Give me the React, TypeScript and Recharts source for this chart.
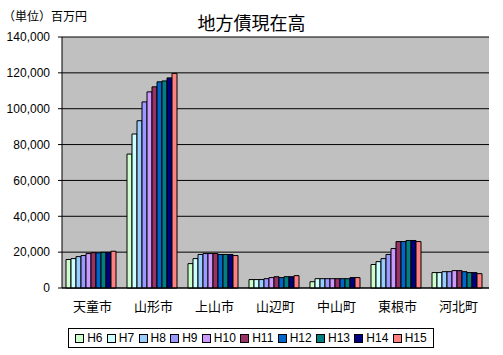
import { BarChart, Bar, XAxis, YAxis, CartesianGrid } from "recharts";

// 市町村
const categories = ["天童市", "山形市", "上山市", "山辺町", "中山町", "東根市", "河北町"];

// 年度
const years = ["H6", "H7", "H8", "H9", "H10", "H11", "H12", "H13", "H14", "H15"];
const colors = [
  "#CCFFCC", "#CCFFFF", "#99CCFF", "#9999FF", "#CC99FF",
  "#993366", "#0066CC", "#008080", "#000080", "#FF8080",
];

// 地方債現在高（百万円）
const h6 = [15900, 74700, 13600, 4700, 3500, 13100, 8600];
const h7 = [16400, 85900, 16400, 4700, 5200, 14700, 8600];
const h8 = [17500, 93300, 18700, 4700, 5200, 16400, 9100];
const h9 = [18100, 103800, 19200, 5200, 5200, 18700, 9100];
const h10 = [19200, 109400, 19200, 5800, 5200, 22000, 9700];
const h11 = [19700, 112200, 19200, 6300, 5200, 25900, 9700];
const h12 = [19600, 115000, 18700, 5800, 5200, 25900, 9100];
const h13 = [19900, 115500, 18700, 6300, 5200, 26500, 8600];
const h14 = [19900, 117200, 18700, 6300, 5800, 26500, 8600];
const h15 = [20500, 119700, 18100, 6900, 5800, 25900, 8000];

const yTicks = [0, 20000, 40000, 60000, 80000, 100000, 120000, 140000];

const series = [h6, h7, h8, h9, h10, h11, h12, h13, h14, h15];
const data = categories.map((name, i) => {
  const row: Record<string, string | number> = { name };
  years.forEach((y, j) => {
    row[y] = series[j][i];
  });
  return row;
});
const boundaryTicks = categories.map((_, i) => i).concat(categories.length);

const FONT = "'Liberation Sans', 'Noto Sans CJK JP', sans-serif";

export default function App() {
  return (
    <div
      style={{
        position: "fixed",
        left: 0,
        top: 0,
        width: 503,
        height: 355,
        background: "#fff",
        fontFamily: FONT,
      }}
    >
      <div style={{ position: "absolute", left: 3, top: 7, fontSize: 12 }}>
        （単位）百万円
      </div>
      <div
        style={{
          position: "absolute",
          left: 0,
          width: 503,
          top: 9,
          textAlign: "center",
          fontSize: 18,
          fontFamily: "'Noto Sans CJK JP', sans-serif",
        }}
      >
        地方債現在高
      </div>

      <BarChart
        width={503}
        height={355}
        data={data}
        margin={{ top: 37, right: 14, bottom: 37, left: 0 }}
        barCategoryGap={4}
        barGap={0}
      >
        <CartesianGrid
          vertical={false}
          stroke="#000"
          fill="#C0C0C0"
          fillOpacity={1}
        />
        <XAxis
          xAxisId="ticks"
          type="number"
          domain={[0, categories.length]}
          ticks={boundaryTicks}
          height={0}
          axisLine={false}
          tickSize={4}
          tickLine={{ stroke: "#000" }}
          tick={() => <g />}
        />
        <XAxis
          dataKey="name"
          height={30}
          axisLine={{ stroke: "#000" }}
          tickLine={false}
          interval={0}
          tick={(props: any) => (
            <text
              x={props.x}
              y={306}
              textAnchor="middle"
              dominantBaseline="central"
              fontSize={13}
              fill="#000"
              fontFamily={FONT}
            >
              {props.payload.value}
            </text>
          )}
        />
        <XAxis
          xAxisId="top"
          orientation="top"
          type="number"
          domain={[0, 1]}
          height={0}
          tick={false}
          tickLine={false}
          axisLine={{ stroke: "#808080" }}
        />
        <YAxis
          width={62}
          domain={[0, 140000]}
          ticks={yTicks}
          tickSize={4}
          tickMargin={8}
          axisLine={{ stroke: "#000" }}
          tickLine={{ stroke: "#000" }}
          tick={{ fill: "#000", fontSize: 12, fontFamily: FONT }}
          tickFormatter={(v: number) => v.toLocaleString("en-US")}
        />
        <YAxis
          yAxisId="r"
          orientation="right"
          width={0}
          domain={[0, 1]}
          tick={false}
          tickLine={false}
          axisLine={{ stroke: "#808080" }}
        />
        {years.map((y, i) => (
          <Bar
            key={y}
            dataKey={y}
            fill={colors[i]}
            stroke="#000"
            strokeWidth={1}
            isAnimationActive={false}
          />
        ))}
      </BarChart>

      <div
        style={{
          position: "absolute",
          left: 68,
          top: 328,
          width: 366,
          height: 20,
          boxSizing: "border-box",
          border: "1px solid #000",
          display: "flex",
          alignItems: "center",
          justifyContent: "space-around",
          padding: "0 4px",
          fontSize: 12,
        }}
      >
        {years.map((y, i) => (
          <div key={y} style={{ display: "flex", alignItems: "center" }}>
            <span
              style={{
                display: "inline-block",
                width: 7,
                height: 7,
                border: "1px solid #000",
                background: colors[i],
                marginRight: 3,
              }}
            />
            <span>{y}</span>
          </div>
        ))}
      </div>
    </div>
  );
}
